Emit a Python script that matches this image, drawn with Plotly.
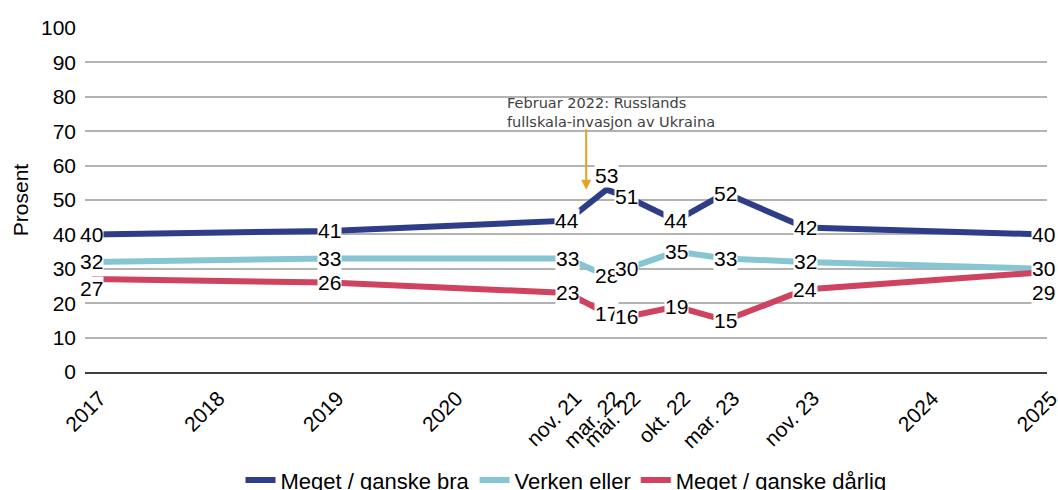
import plotly.graph_objects as go

# ---- data ----
survey_dates = ["2017-11-01", "2019-11-01", "2021-11-01", "2022-03-01", "2022-05-01",
                "2022-10-01", "2023-03-01", "2023-11-01", "2025-11-01"]
bra = [40, 41, 44, 53, 51, 44, 52, 42, 40]
verken = [32, 33, 33, 28, 30, 35, 33, 32, 30]
darlig = [27, 26, 23, 17, 16, 19, 15, 24, 29]

tick_dates = ["2017-11-01", "2018-11-01", "2019-11-01", "2020-11-01", "2021-11-01",
              "2022-03-01", "2022-05-01", "2022-10-01", "2023-03-01", "2023-11-01",
              "2024-11-01", "2025-11-01"]
tick_labels = ["2017", "2018", "2019", "2020", "nov. 21", "mar. 22", "mai. 22",
               "okt. 22", "mar. 23", "nov. 23", "2024", "2025"]

series = [
    ("Meget / ganske bra", bra, "#2e3d87"),
    ("Verken eller", verken, "#86c6d2"),
    ("Meget / ganske dårlig", darlig, "#cf4360"),
]

# label shifts (pixels) for a few crowded labels
label_shift = {("Meget / ganske bra", 3): 14,
               ("Meget / ganske dårlig", 0): -9,
               ("Meget / ganske dårlig", 8): -20}

FONT = "Liberation Sans, Arial, sans-serif"
FS = 21

fig = go.Figure()
for name, vals, col in series:
    fig.add_trace(go.Scatter(
        x=survey_dates, y=vals, name=name, mode="lines",
        line=dict(color=col, width=6),
    ))

annotations = []
for name, vals, col in series:
    for i, (d, v) in enumerate(zip(survey_dates, vals)):
        annotations.append(dict(
            x=d, y=v, xref="x", yref="y", text=str(v), showarrow=False,
            font=dict(family=FONT, size=FS, color="#000000"),
            bgcolor="#ffffff", borderpad=0,
            yshift=label_shift.get((name, i), 0),
        ))

# event annotation
annotations.append(dict(
    x=0.521, y=53, xref="paper", yref="y", text="", showarrow=True,
    ax=0, ay=-62, arrowhead=2, arrowsize=1, arrowwidth=2, arrowcolor="#e8a020",
))
annotations.append(dict(
    x=0.4366, y=0.753, xref="paper", yref="paper",
    text="Februar 2022: Russlands<br>fullskala-invasjon av Ukraina",
    showarrow=False, xanchor="left", yanchor="middle", align="left",
    font=dict(family="DejaVu Sans, Verdana, sans-serif", size=14.5, color="#404040"),
))

fig.update_layout(
    width=1058, height=490,
    margin=dict(l=85, r=11, t=28, b=118, autoexpand=False),
    plot_bgcolor="#ffffff", paper_bgcolor="#ffffff",
    font=dict(family=FONT, size=FS, color="#000000"),
    annotations=annotations,
    showlegend=True,
    legend=dict(orientation="h", x=0.5, xanchor="center", y=0.02, yanchor="middle",
                yref="container", font=dict(family=FONT, size=22, color="#000000"),
                itemwidth=30, tracegroupgap=0),
)

fig.update_xaxes(
    type="date", range=["2017-10-11", "2025-11-13"],
    tickmode="array", tickvals=tick_dates, ticktext=tick_labels, tickangle=-45,
    showgrid=False, showline=True, linecolor="#404040", linewidth=1.5,
    ticks="", ticklabelshift=8, ticklabelstandoff=4, ticklabeloverflow="allow",
    tickfont=dict(family=FONT, size=FS, color="#000000"),
)
fig.update_yaxes(
    range=[0, 100], dtick=10, showgrid=True, gridcolor="#b3b3b3", gridwidth=1.5,
    zeroline=False, showline=False, ticks="", ticklabelstandoff=8,
    tickfont=dict(family=FONT, size=FS, color="#000000"),
    title=dict(text="Prosent", font=dict(family=FONT, size=21, color="#000000"), standoff=6),
)

fig.write_html("out.html", config={"displayModeBar": False},
               post_script="document.body.style.margin='0';")
